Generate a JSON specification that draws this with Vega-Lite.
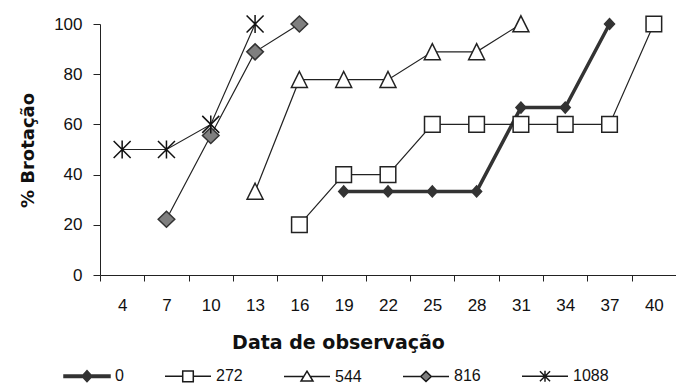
{
  "$schema": "https://vega.github.io/schema/vega-lite/v6.json",
  "autosize": {"type": "none"},
  "width": 576,
  "height": 251,
  "padding": {"left": 100, "top": 24, "right": 0, "bottom": 108},
  "background": "white",
  "config": {
    "view": {"stroke": null},
    "axis": {"grid": false, "domainColor": "#222", "tickColor": "#222", "labelColor": "#111", "titleColor": "#111", "labelFont": "Liberation Sans", "labelFontSize": 17, "titleFont": "DejaVu Sans", "titleFontSize": 18, "titleFontWeight": "bold"}
  },
  "data": {
    "values": [
      {"s": "0", "d": 19, "v": 33.3}, {"s": "0", "d": 22, "v": 33.3}, {"s": "0", "d": 25, "v": 33.3}, {"s": "0", "d": 28, "v": 33.3}, {"s": "0", "d": 31, "v": 66.7}, {"s": "0", "d": 34, "v": 66.7}, {"s": "0", "d": 37, "v": 100},
      {"s": "272", "d": 16, "v": 20}, {"s": "272", "d": 19, "v": 40}, {"s": "272", "d": 22, "v": 40}, {"s": "272", "d": 25, "v": 60}, {"s": "272", "d": 28, "v": 60}, {"s": "272", "d": 31, "v": 60}, {"s": "272", "d": 34, "v": 60}, {"s": "272", "d": 37, "v": 60}, {"s": "272", "d": 40, "v": 100},
      {"s": "544", "d": 13, "v": 33.3}, {"s": "544", "d": 16, "v": 77.8}, {"s": "544", "d": 19, "v": 77.8}, {"s": "544", "d": 22, "v": 77.8}, {"s": "544", "d": 25, "v": 88.9}, {"s": "544", "d": 28, "v": 88.9}, {"s": "544", "d": 31, "v": 100},
      {"s": "816", "d": 7, "v": 22.2}, {"s": "816", "d": 10, "v": 55.6}, {"s": "816", "d": 13, "v": 88.9}, {"s": "816", "d": 16, "v": 100},
      {"s": "1088", "d": 4, "v": 50}, {"s": "1088", "d": 7, "v": 50}, {"s": "1088", "d": 10, "v": 60}, {"s": "1088", "d": 13, "v": 100}
    ]
  },
  "encoding": {
    "x": {
      "field": "d", "type": "ordinal",
      "scale": {"domain": [4, 7, 10, 13, 16, 19, 22, 25, 28, 31, 34, 37, 40], "paddingInner": 0, "paddingOuter": 0},
      "axis": {"title": "Data de observação", "titleFontSize": 19, "labelAngle": 0, "tickBand": "extent", "tickSize": 6, "labelPadding": 16, "titleX": 238, "titleY": 73, "titleBaseline": "alphabetic", "titleAnchor": null, "titleAlign": "center"}
    },
    "y": {
      "field": "v", "type": "quantitative",
      "scale": {"domain": [0, 100], "nice": false},
      "axis": {"title": "% Brotação", "values": [0, 20, 40, 60, 80, 100], "tickSize": 7, "labelPadding": 11, "titleX": -67, "titleY": 126, "titleAngle": -90, "titleBaseline": "alphabetic", "titleAlign": "center", "titleAnchor": null}
    }
  },
  "layer": [
    {
      "transform": [{"filter": "datum.s == '0'"}],
      "mark": {"type": "line", "color": "#333", "strokeWidth": 3.5}
    },
    {
      "transform": [{"filter": "datum.s != '0'"}],
      "mark": {"type": "line", "color": "#222", "strokeWidth": 1.2},
      "encoding": {"detail": {"field": "s", "type": "nominal"}}
    },
    {
      "mark": {"type": "point", "filled": true, "size": 400, "strokeWidth": 1.5, "opacity": 1},
      "encoding": {
        "shape": {
          "field": "s", "type": "nominal",
          "scale": {
            "domain": ["0", "272", "544", "816", "1088"],
            "range": [
              "M-0.5,0L0,-0.55L0.5,0L0,0.55Z",
              "M-0.78,-0.78H0.78V0.78H-0.78Z",
              "M0,-0.82L0.8,0.78H-0.8Z",
              "M-0.83,0L0,-0.8L0.83,0L0,0.8Z",
              "M-0.85,-0.85L0.85,0.85M-0.85,0.85L0.85,-0.85M0,-0.9V0.9"
            ]
          },
          "legend": null
        },
        "stroke": {
          "field": "s", "type": "nominal",
          "scale": {"domain": ["0", "272", "544", "816", "1088"], "range": ["#333", "#222", "#222", "#333", "#111"]},
          "legend": null
        },
        "fill": {
          "field": "s", "type": "nominal",
          "scale": {"domain": ["0", "272", "544", "816", "1088"], "range": ["#333", "#fff", "#fff", "#7f7f7f", "transparent"]},
          "legend": null
        }
      }
    },
    {
      "transform": [{"filter": "datum.v < 0"}],
      "mark": {"type": "point", "filled": true, "size": 2116, "strokeWidth": 1.5, "opacity": 1},
      "encoding": {
        "shape": {
          "field": "s", "type": "nominal",
          "scale": {
            "domain": ["0", "272", "544", "816", "1088"],
            "range": [
              "M-1,-0.05H1V0.05H-1ZM-0.22,0L0,-0.24L0.22,0L0,0.24Z",
              "M-1,0H-0.23M0.23,0H1M-0.23,-0.23H0.23V0.23H-0.23Z",
              "M-1,0H-0.14M0.14,0H1M0,-0.23L0.26,0.2H-0.26Z",
              "M-1,0H-0.23M0.23,0H1M-0.23,0L0,-0.22L0.23,0L0,0.22Z",
              "M-1,0H1M-0.22,-0.22L0.22,0.22M-0.22,0.22L0.22,-0.22M0,-0.24V0.24"
            ]
          },
          "legend": {
            "orient": "none", "legendX": -37, "legendY": 328,
            "direction": "horizontal", "title": null,
            "symbolSize": 2116, "symbolStrokeWidth": 1.5, "symbolOffset": 0, "symbolOpacity": 1,
            "labelFont": "Liberation Sans", "labelFontSize": 16, "labelColor": "#111", "labelOffset": 4,
            "columnPadding": 38, "padding": 0
          }
        },
        "stroke": {
          "field": "s", "type": "nominal",
          "scale": {"domain": ["0", "272", "544", "816", "1088"], "range": ["#333", "#1a1a1a", "#1a1a1a", "#1a1a1a", "#1a1a1a"]},
          "legend": {"title": null}
        },
        "fill": {
          "field": "s", "type": "nominal",
          "scale": {"domain": ["0", "272", "544", "816", "1088"], "range": ["#333", "#fff", "#fff", "#7f7f7f", "transparent"]},
          "legend": {"title": null}
        }
      }
    }
  ],
  "resolve": {"scale": {"shape": "independent", "fill": "independent", "stroke": "independent"}}
}
